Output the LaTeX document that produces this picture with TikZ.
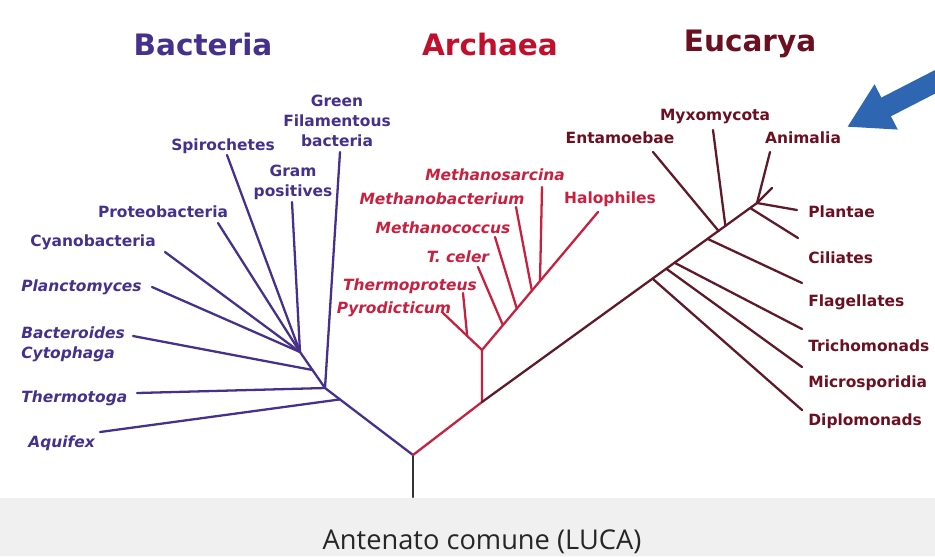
\documentclass[tikz,border=0pt]{standalone}
\usepackage{fontspec}
\setmainfont{DejaVu Sans}
\newfontfamily\lucafont{Open Sans}
\usetikzlibrary{arrows.meta, calc}
\definecolor{treeBact}{HTML}{45308C}
\definecolor{treeArch}{HTML}{C8203F}
\definecolor{treeEuc}{HTML}{5E1A28}
\definecolor{titleArch}{HTML}{C0102E}
\definecolor{titleEuc}{HTML}{6B1020}
\definecolor{arrowBlue}{HTML}{2F66B1}
\definecolor{bandGray}{HTML}{F0F0F0}

\begin{document}
\begin{tikzpicture}[
    x=0.02cm, y=-0.02cm,
    title/.style={font=\bfseries\fontsize{16.8}{20}\selectfont, inner sep=0pt},
    lbl/.style={font=\bfseries\fontsize{8.8}{11.3}\selectfont, align=center, inner sep=0pt},
    ilbl/.style={lbl, font=\bfseries\itshape\fontsize{8.8}{11.3}\selectfont},
    br/.style={line width=1.3pt, line cap=round},
    bigarrow/.style={-{Triangle[length=0.88cm, width=0.95cm]}, line width=0.42cm, draw=arrowBlue},
]
\useasboundingbox (0,0) rectangle (935,556);
\clip (0,0) rectangle (935,556);
\fill[bandGray] (0,498) rectangle (935,556);

% titles
\node[title, text=treeBact] (tbact) at (203,44) {Bacteria};
\node[title, text=titleArch] (tarch) at (490,44) {Archaea};
\node[title, text=titleEuc] (teuc) at (750,44) {Eucarya};

% tree nodes
\coordinate (rootend) at (413,497);
\coordinate (root) at (413,455);
\coordinate (b2) at (325,388);
\coordinate (b4) at (300,352);
\coordinate (b1) at ($(root)!0.83!(b2)$);
\coordinate (b3) at ($(b2)!0.5!(b4)$);
\coordinate (a0) at (482,402);
\coordinate (a1) at (482,350);
\coordinate (halotip) at (598,212);
\coordinate (pyrotip) at (443,313);
\coordinate (a2) at ($(a1)!0.38!(pyrotip)$);
\coordinate (a3) at ($(a1)!0.18!(halotip)$);
\coordinate (a4) at ($(a1)!0.30!(halotip)$);
\coordinate (a5) at ($(a1)!0.43!(halotip)$);
\coordinate (a6) at ($(a1)!0.50!(halotip)$);
\coordinate (etip) at (757,203);
\coordinate (ediplo) at ($(a0)!0.62!(etip)$);
\coordinate (emicro) at ($(a0)!0.67!(etip)$);
\coordinate (etricho) at ($(a0)!0.70!(etip)$);
\coordinate (eflag) at ($(a0)!0.82!(etip)$);
\coordinate (eent) at ($(a0)!0.86!(etip)$);
\coordinate (emyxo) at ($(a0)!0.885!(etip)$);
\coordinate (ecil) at ($(a0)!0.975!(etip)$);

% leaf ends
\coordinate (aquitip) at (100,432);
\coordinate (thtogatip) at (137,393);
\coordinate (bacttip) at (133,336);
\coordinate (plantip) at (152,287);
\coordinate (cyanotip) at (165,252);
\coordinate (proteotip) at (218,223);
\coordinate (spirotip) at (227,155);
\coordinate (gramtip) at (292,202);
\coordinate (greentip) at (340,152);
\coordinate (tproteustip) at (463,293);
\coordinate (tcelertip) at (478,267);
\coordinate (mcocctip) at (495,237);
\coordinate (mbacttip) at (516,207);
\coordinate (msarctip) at (542,187);
\coordinate (entamtip) at (653,152);
\coordinate (myxotip) at (713,130);
\coordinate (animtip) at (770,152);
\coordinate (stubtip) at (772,188);
\coordinate (plantaetip) at (797,210);
\coordinate (ciltip) at (798,238);
\coordinate (flagtip) at (802,283);
\coordinate (trichotip) at (802,329);
\coordinate (microtip) at (802,367);
\coordinate (diplotip) at (802,410);

% branches
\draw[br, draw=black!80] (rootend) -- (root);
\draw[br, draw=treeBact] (root) -- (b2) -- (b4);
\draw[br, draw=treeBact] (b1) -- (aquitip);
\draw[br, draw=treeBact] (b2) -- (thtogatip);
\draw[br, draw=treeBact] (b2) -- (greentip);
\draw[br, draw=treeBact] (b3) -- (bacttip);
\foreach \t in {plantip, cyanotip, proteotip, spirotip, gramtip}
    \draw[br, draw=treeBact] (b4) -- (\t);

\draw[br, draw=treeArch] (root) -- (a0) -- (a1);
\draw[br, draw=treeArch] (a1) -- (pyrotip);
\draw[br, draw=treeArch] (a2) -- (tproteustip);
\draw[br, draw=treeArch] (a1) -- (halotip);
\draw[br, draw=treeArch] (a3) -- (tcelertip);
\draw[br, draw=treeArch] (a4) -- (mcocctip);
\draw[br, draw=treeArch] (a5) -- (mbacttip);
\draw[br, draw=treeArch] (a6) -- (msarctip);

\draw[br, draw=treeEuc] (a0) -- (etip);
\draw[br, draw=treeEuc] (ediplo) -- (diplotip);
\draw[br, draw=treeEuc] (emicro) -- (microtip);
\draw[br, draw=treeEuc] (etricho) -- (trichotip);
\draw[br, draw=treeEuc] (eflag) -- (flagtip);
\draw[br, draw=treeEuc] (eent) -- (entamtip);
\draw[br, draw=treeEuc] (emyxo) -- (myxotip);
\draw[br, draw=treeEuc] (ecil) -- (ciltip);
\foreach \t in {animtip, stubtip, plantaetip}
    \draw[br, draw=treeEuc] (etip) -- (\t);

% labels bacteria
\node[lbl, text=treeBact] (green) at (337,121) {Green\\Filamentous\\bacteria};
\node[lbl, text=treeBact] (spiro) at (223,146) {Spirochetes};
\node[lbl, text=treeBact] (gram) at (293,182) {Gram\\positives};
\node[lbl, text=treeBact] (proteo) at (163,212) {Proteobacteria};
\node[lbl, text=treeBact] (cyano) at (93,242) {Cyanobacteria};
\node[ilbl, text=treeBact, anchor=west] (plancto) at (21,287) {Planctomyces};
\node[ilbl, text=treeBact, anchor=west, align=left] (bactero) at (21,344) {Bacteroides\\Cytophaga};
\node[ilbl, text=treeBact, anchor=west] (thtoga) at (21,398) {Thermotoga};
\node[ilbl, text=treeBact, anchor=west] (aquifex) at (28,443) {Aquifex};

% labels archaea
\node[ilbl, text=treeArch] (msarc) at (495,175) {Methanosarcina};
\node[ilbl, text=treeArch] (mbact) at (442,199) {Methanobacterium};
\node[ilbl, text=treeArch] (mcocc) at (443,228) {Methanococcus};
\node[ilbl, text=treeArch] (tceler) at (458,257) {T. celer};
\node[ilbl, text=treeArch] (tproteus) at (410,286) {Thermoproteus};
\node[ilbl, text=treeArch] (pyro) at (394,309) {Pyrodicticum};
\node[lbl, text=treeArch] (halo) at (610,199) {Halophiles};

% labels eucarya
\node[lbl, text=titleEuc] (entam) at (620,138) {Entamoebae};
\node[lbl, text=titleEuc] (myxo) at (715,117) {Myxomycota};
\node[lbl, text=titleEuc] (anim) at (803,138) {Animalia};
\foreach \n/\y/\txt in {plantae/212/Plantae, ciliates/258/Ciliates,
    flagell/302/Flagellates, tricho/346/Trichomonads,
    micro/383/Microsporidia, diplo/421/Diplomonads}
    \node[lbl, text=titleEuc, anchor=west] (\n) at (808,\y) {\txt};

% pointer arrow
\coordinate (arrowtail) at (960,69);
\coordinate (arrowtip) at (847,127);
\draw[bigarrow] (arrowtail) -- (arrowtip);

% common ancestor
\node[font=\lucafont\fontsize{15.5}{18}\selectfont, text=black!85] (luca) at (482,542) {Antenato comune (LUCA)};
\end{tikzpicture}
\end{document}
